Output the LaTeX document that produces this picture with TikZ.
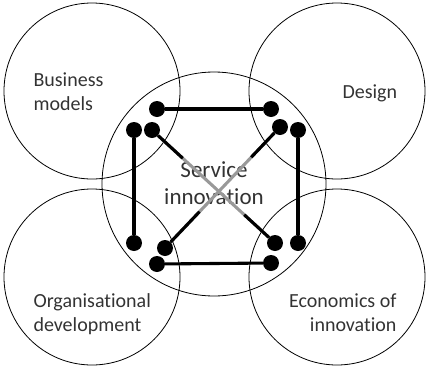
\documentclass[tikz,border=0pt]{standalone}
\usepackage{fontspec}
\setmainfont{Carlito}[Ligatures=NoCommon]
\usetikzlibrary{calc}

\tikzset{
  field/.style={draw, circle, line width=0.8pt, minimum size=#1},
  dot/.style={circle, fill, inner sep=0pt, minimum size=16bp},
  link/.style={line width=3.1pt},
  fieldtext/.style={text=black!80, font=\fontsize{20bp}{24bp}\selectfont},
}

\begin{document}
\begin{tikzpicture}[x=1bp, y=-1bp]
\useasboundingbox (0,0) rectangle (426,367);

\node[field=176bp] (bmod) at (92,91) {};
\node[field=176bp] (desg) at (337,91) {};
\node[field=176bp] (orgd) at (92,277) {};
\node[field=176bp] (econ) at (337,277) {};
\node[field=224bp] (serv) at (214,184) {};

\node[fieldtext, anchor=base west, align=left] (bmodt) at (30,110) {Business\\models};
\node[fieldtext, anchor=base west] (desgt) at (339,98) {Design};
\node[fieldtext, anchor=base west, align=left] (orgdt) at (30,331) {Organisational\\development};
\node[fieldtext, anchor=base east, align=right] (econt) at (400,331) {Economics of\\innovation};
\node[fieldtext, font=\fontsize{23bp}{27bp}\selectfont, anchor=base, align=center] (servt) at (214,204) {Service\\innovation};

\node[dot] (tl) at (157,109) {};
\node[dot] (tr) at (271,109) {};
\node[dot] (lA) at (134,130) {};
\node[dot] (lB) at (152,130) {};
\node[dot] (rB) at (280,127) {};
\node[dot] (rA) at (298,130) {};
\node[dot] (lC) at (134,243) {};
\node[dot] (lD) at (165,248) {};
\node[dot] (rD) at (275,243) {};
\node[dot] (rC) at (298,243) {};
\node[dot] (bl) at (157,264) {};
\node[dot] (br) at (271,263) {};

\draw[link] (tl) -- (tr);
\draw[link] (bl) -- (br);
\draw[link] (lA) -- (lC);
\draw[link] (rA) -- (rC);

\draw[link, black!40] (lB) -- (rD);
\draw[link, black!40] (rB) -- (lD);
\coordinate (xa) at ($(lB)!0.25!(rD)$);
\coordinate (xb) at ($(lB)!0.75!(rD)$);
\coordinate (xc) at ($(rB)!0.25!(lD)$);
\coordinate (xd) at ($(rB)!0.7!(lD)$);
\draw[link] (lB) -- (xa);
\draw[link] (rD) -- (xb);
\draw[link] (rB) -- (xc);
\draw[link] (lD) -- (xd);
\end{tikzpicture}
\end{document}
